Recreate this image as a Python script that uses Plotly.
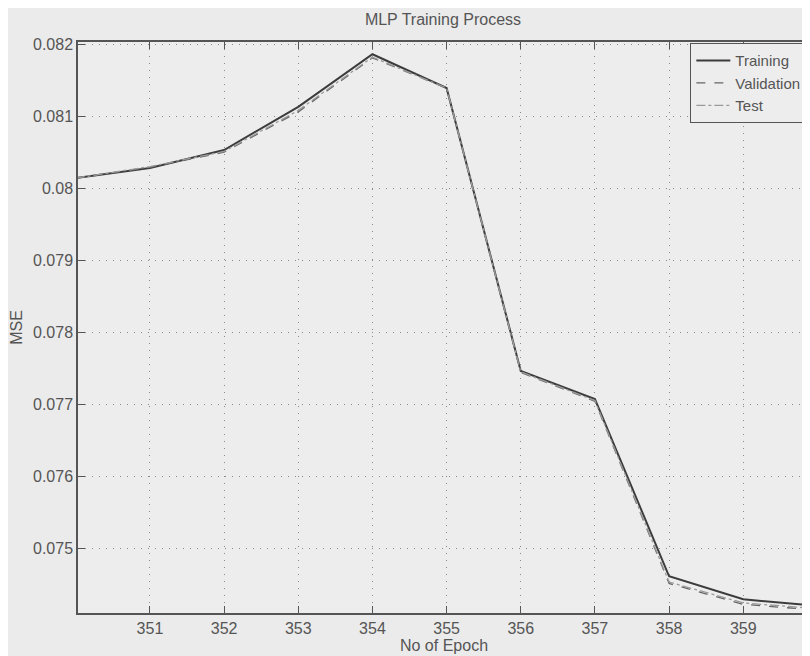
import plotly.graph_objects as go

epochs = [350, 351, 352, 353, 354, 355, 356, 357, 358, 359, 360]
training = [0.08014, 0.08028, 0.08053, 0.08113, 0.08186, 0.08139, 0.07746, 0.07707, 0.07461, 0.07429, 0.07420]
validation = [0.08014, 0.08029, 0.08050, 0.08106, 0.08181, 0.08139, 0.07744, 0.07704, 0.07451, 0.07422, 0.07414]
test = [0.08014, 0.08030, 0.08051, 0.08108, 0.08182, 0.08139, 0.07745, 0.07705, 0.07453, 0.07424, 0.07416]

y_ticks = [0.075, 0.076, 0.077, 0.078, 0.079, 0.080, 0.081, 0.082]
y_ticktext = ["0.075", "0.076", "0.077", "0.078", "0.079", "0.08", "0.081", "0.082"]
x_ticks = [351, 352, 353, 354, 355, 356, 357, 358, 359]

fig = go.Figure()
fig.add_trace(go.Scatter(x=epochs, y=training, name="Training", mode="lines",
                         line=dict(color="#3c3c3c", width=2, dash="solid")))
fig.add_trace(go.Scatter(x=epochs, y=validation, name="Validation", mode="lines",
                         line=dict(color="#666666", width=1.3, dash="dash")))
fig.add_trace(go.Scatter(x=epochs, y=test, name="Test", mode="lines",
                         line=dict(color="#9a9a9a", width=1.3, dash="dashdot")))

font = "Liberation Sans, Arial, sans-serif"
txt = "#555555"
# page body has an 8px margin, so the figure is sized/offset to compensate
fig.update_layout(
    width=802, height=648,
    margin=dict(l=70, r=0, t=34, b=43, autoexpand=False),
    paper_bgcolor="#ebebeb", plot_bgcolor="#ededed",
    font=dict(family=font, size=16, color=txt),
    title=dict(text="MLP Training Process", x=0.5424, xanchor="center", y=0.983, yanchor="middle",
               font=dict(size=16, color=txt)),
    legend=dict(x=0.995, y=0.998, xanchor="right", yanchor="top",
                bgcolor="#ededed", bordercolor="#555555", borderwidth=1,
                font=dict(size=15, color=txt), tracegroupgap=0, itemwidth=34),
    showlegend=True,
)
fig.update_xaxes(range=[350.03, 359.9], tickvals=x_ticks, ticks="inside", ticklen=7,
                 tickcolor="#555555", showline=True, linecolor="#555555", linewidth=1.5,
                 mirror="ticks", showgrid=True, gridcolor="#8a8a8a", griddash="1px,6px", gridwidth=1.2,
                 zeroline=False, automargin=False,
                 title=dict(text="No of Epoch", standoff=0, font=dict(size=16)),
                 tickfont=dict(size=16))
fig.update_yaxes(range=[0.07410, 0.08203], tickvals=y_ticks, ticktext=y_ticktext,
                 ticks="inside", ticklen=7, tickcolor="#555555", showline=True,
                 linecolor="#555555", linewidth=1.5, showgrid=True, gridcolor="#8a8a8a",
                 griddash="1px,6px", gridwidth=1.2, zeroline=False, automargin=False,
                 title=dict(text="MSE", standoff=8, font=dict(size=16)), tickfont=dict(size=16))

fig.write_html("out.html")
